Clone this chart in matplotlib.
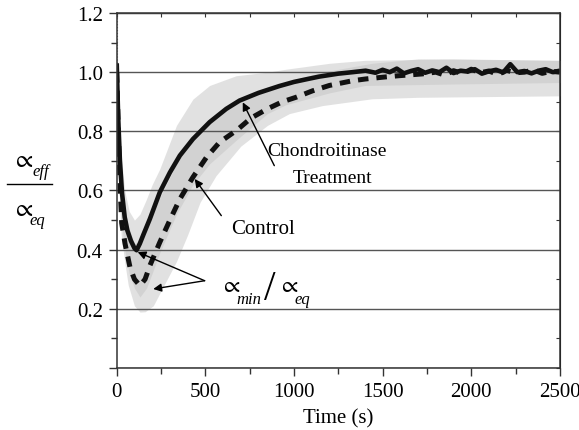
import matplotlib
matplotlib.use('Agg')
import matplotlib.pyplot as plt
import numpy as np
from matplotlib.lines import Line2D

plt.rcParams['font.family'] = 'serif'
plt.rcParams['font.serif'] = ['Liberation Serif', 'DejaVu Serif']
plt.rcParams['mathtext.fontset'] = 'stix'

# Chondroitinase treatment (solid)
t_treat = [0, 8, 18, 30, 45, 60, 80, 100, 112, 130, 150, 187, 243, 300, 356,
           430, 524, 618, 693, 800, 917, 1000, 1070, 1142, 1250, 1330, 1404,
           1460, 1500, 1540, 1580, 1620, 1660, 1700, 1740, 1780, 1820, 1860,
           1900, 1940, 1980, 2020, 2060, 2100, 2140, 2180, 2220, 2260, 2300,
           2340, 2380, 2420, 2460, 2500]
y_treat = [1.03, 0.85, 0.70, 0.59, 0.51, 0.465, 0.43, 0.405, 0.398, 0.42,
           0.45, 0.504, 0.594, 0.661, 0.718, 0.774, 0.831, 0.876, 0.904, 0.93,
           0.953, 0.967, 0.976, 0.985, 0.995, 1.0, 1.005, 0.998, 1.008, 1.0,
           1.012, 0.996, 1.004, 1.01, 0.998, 1.006, 1.0, 1.015, 0.997, 1.005,
           1.002, 1.01, 0.995, 1.003, 1.008, 0.999, 1.027, 1.0, 1.004, 0.996,
           1.005, 1.01, 1.0, 1.005]

# Control (dashed)
t_ctrl = [0, 10, 20, 28, 47, 75, 100, 131, 160, 187, 243, 300, 356, 430, 506,
          580, 680, 758, 850, 935, 1011, 1105, 1199, 1330, 1404, 1500, 1591,
          1722, 1800, 1850, 1900, 1950, 2000, 2050, 2100, 2150, 2200, 2250,
          2300, 2350, 2400, 2450, 2500]
y_ctrl = [1.0, 0.78, 0.60, 0.49, 0.42, 0.34, 0.30, 0.278, 0.30, 0.346, 0.425,
          0.50, 0.571, 0.645, 0.712, 0.763, 0.805, 0.845, 0.876, 0.90, 0.915,
          0.937, 0.955, 0.971, 0.977, 0.983, 0.988, 0.994, 1.0, 0.99, 1.005,
          0.995, 1.01, 0.998, 1.004, 0.992, 1.006, 0.998, 1.0, 1.008, 0.996,
          1.003, 1.0]

# standard deviation envelopes
tb_treat = [0, 10, 25, 45, 70, 100, 131, 168, 200, 243, 337, 430, 524, 674,
            850, 955, 1200, 1400, 1900, 2500]
lo_treat = [0.98, 0.75, 0.50, 0.40, 0.32, 0.27, 0.24, 0.27, 0.32, 0.39, 0.52,
            0.62, 0.69, 0.77, 0.86, 0.89, 0.93, 0.955, 0.96, 0.965]
hi_treat = [1.10, 0.95, 0.72, 0.60, 0.53, 0.50, 0.52, 0.571, 0.62, 0.673,
            0.82, 0.909, 0.955, 0.988, 1.0, 1.01, 1.03, 1.04, 1.045, 1.04]

tb_ctrl = [0, 10, 25, 47, 65, 100, 131, 160, 206, 337, 400, 470, 560, 700,
           850, 974, 1160, 1440, 1700, 2500]
lo_ctrl = [0.95, 0.65, 0.45, 0.35, 0.28, 0.21, 0.189, 0.19, 0.21, 0.36, 0.45,
           0.56, 0.65, 0.75, 0.82, 0.86, 0.887, 0.91, 0.915, 0.92]
hi_ctrl = [1.05, 0.88, 0.65, 0.53, 0.48, 0.42, 0.43, 0.46, 0.53, 0.69, 0.76,
           0.81, 0.86, 0.91, 0.95, 0.97, 1.0, 1.03, 1.045, 1.04]

spike_t = [3, 3]
spike_y = [1.03, 1.2]

fig = plt.figure(figsize=(5.79, 4.31), dpi=100)
ax = fig.add_axes([0.2016, 0.1439, 0.7654, 0.8236])

ax.fill_between(tb_ctrl, lo_ctrl, hi_ctrl, color='#c4c4c4', alpha=0.5, lw=0)
ax.fill_between(tb_treat, lo_treat, hi_treat, color='#c4c4c4', alpha=0.5, lw=0)

ax.plot(spike_t, spike_y, color='#888888', lw=0.8, ls=':')
ax.plot(t_ctrl, y_ctrl, color='#111111', lw=3.6, ls=(0, (2.1, 1.6)),
        dash_capstyle='butt', solid_joinstyle='round')
ax.plot(t_treat, y_treat, color='#111111', lw=3.3, solid_capstyle='butt',
        solid_joinstyle='round')

ax.set_xlim(0, 2500)
ax.set_ylim(0, 1.2)
ax.set_xticks(np.arange(0, 2501, 500))
ax.set_xticks(np.arange(0, 2501, 250), minor=True)
ax.set_yticks(np.arange(0, 1.21, 0.2))
ax.set_yticks(np.arange(0.1, 1.2, 0.2), minor=True)
ax.set_yticklabels(['', '0.2', '0.4', '0.6', '0.8', '1.0', '1.2'])
ax.yaxis.grid(True, color='#555555', lw=1.0)
ax.tick_params(which='major', direction='out', length=6, width=1.0,
               color='#333333', labelsize=15, pad=4)
ax.tick_params(which='minor', direction='out', length=4, width=1.0,
               color='#333333')
for s in ax.spines.values():
    s.set_color('#333333')
    s.set_linewidth(1.1)

top = ax.secondary_xaxis('top')
top.set_xticks(np.arange(0, 2501, 250))
top.set_xticklabels([])
top.tick_params(direction='in', length=3, color='#333333')
right = ax.secondary_yaxis('right')
right.set_yticks(np.arange(0, 1.21, 0.1))
right.set_yticklabels([])
right.tick_params(direction='in', length=3, color='#333333')

ax.set_xlabel('Time (s)', fontsize=15, labelpad=5)

arr = dict(arrowstyle='-|>', color='black', lw=1.0, mutation_scale=12,
           shrinkA=0, shrinkB=0)
ax.annotate('', xy=(711, 0.898), xytext=(889, 0.684), arrowprops=arr)
ax.text(1187, 0.735, 'Chondroitinase', fontsize=14, ha='center', va='center')
ax.text(1215, 0.645, 'Treatment', fontsize=14, ha='center', va='center')
ax.annotate('', xy=(440, 0.639), xytext=(590, 0.515), arrowprops=arr)
ax.text(823, 0.47, 'Control', fontsize=15, ha='center', va='center')
ax.annotate('', xy=(118, 0.392), xytext=(496, 0.295), arrowprops=arr)
ax.annotate('', xy=(206, 0.267), xytext=(496, 0.295), arrowprops=arr)

# alpha_min / alpha_eq label
ax.text(640, 0.278, r'$\propto$', fontsize=17, ha='center', va='center')
ax.text(745, 0.233, 'min', fontsize=12, style='italic', ha='center',
        va='center')
ax.text(861, 0.268, '/', fontsize=30, ha='center', va='center')
ax.text(969, 0.278, r'$\propto$', fontsize=17, ha='center', va='center')
ax.text(1046, 0.233, 'eq', fontsize=12, style='italic', ha='center',
        va='center')

# y label as a stacked fraction
fig.text(23 / 579, 1 - 161 / 431, r'$\propto$', fontsize=18,
         ha='center', va='center')
fig.text(41 / 579, 1 - 172 / 431, 'eff', fontsize=12, style='italic',
         ha='center', va='center')
fig.add_artist(Line2D([7 / 579, 52 / 579], [1 - 185 / 431, 1 - 185 / 431],
                      color='black', lw=1.0))
fig.text(23 / 579, 1 - 210 / 431, r'$\propto$', fontsize=18,
         ha='center', va='center')
fig.text(37 / 579, 1 - 221 / 431, 'eq', fontsize=12, style='italic',
         ha='center', va='center')

fig.savefig('out.png', dpi=100)
